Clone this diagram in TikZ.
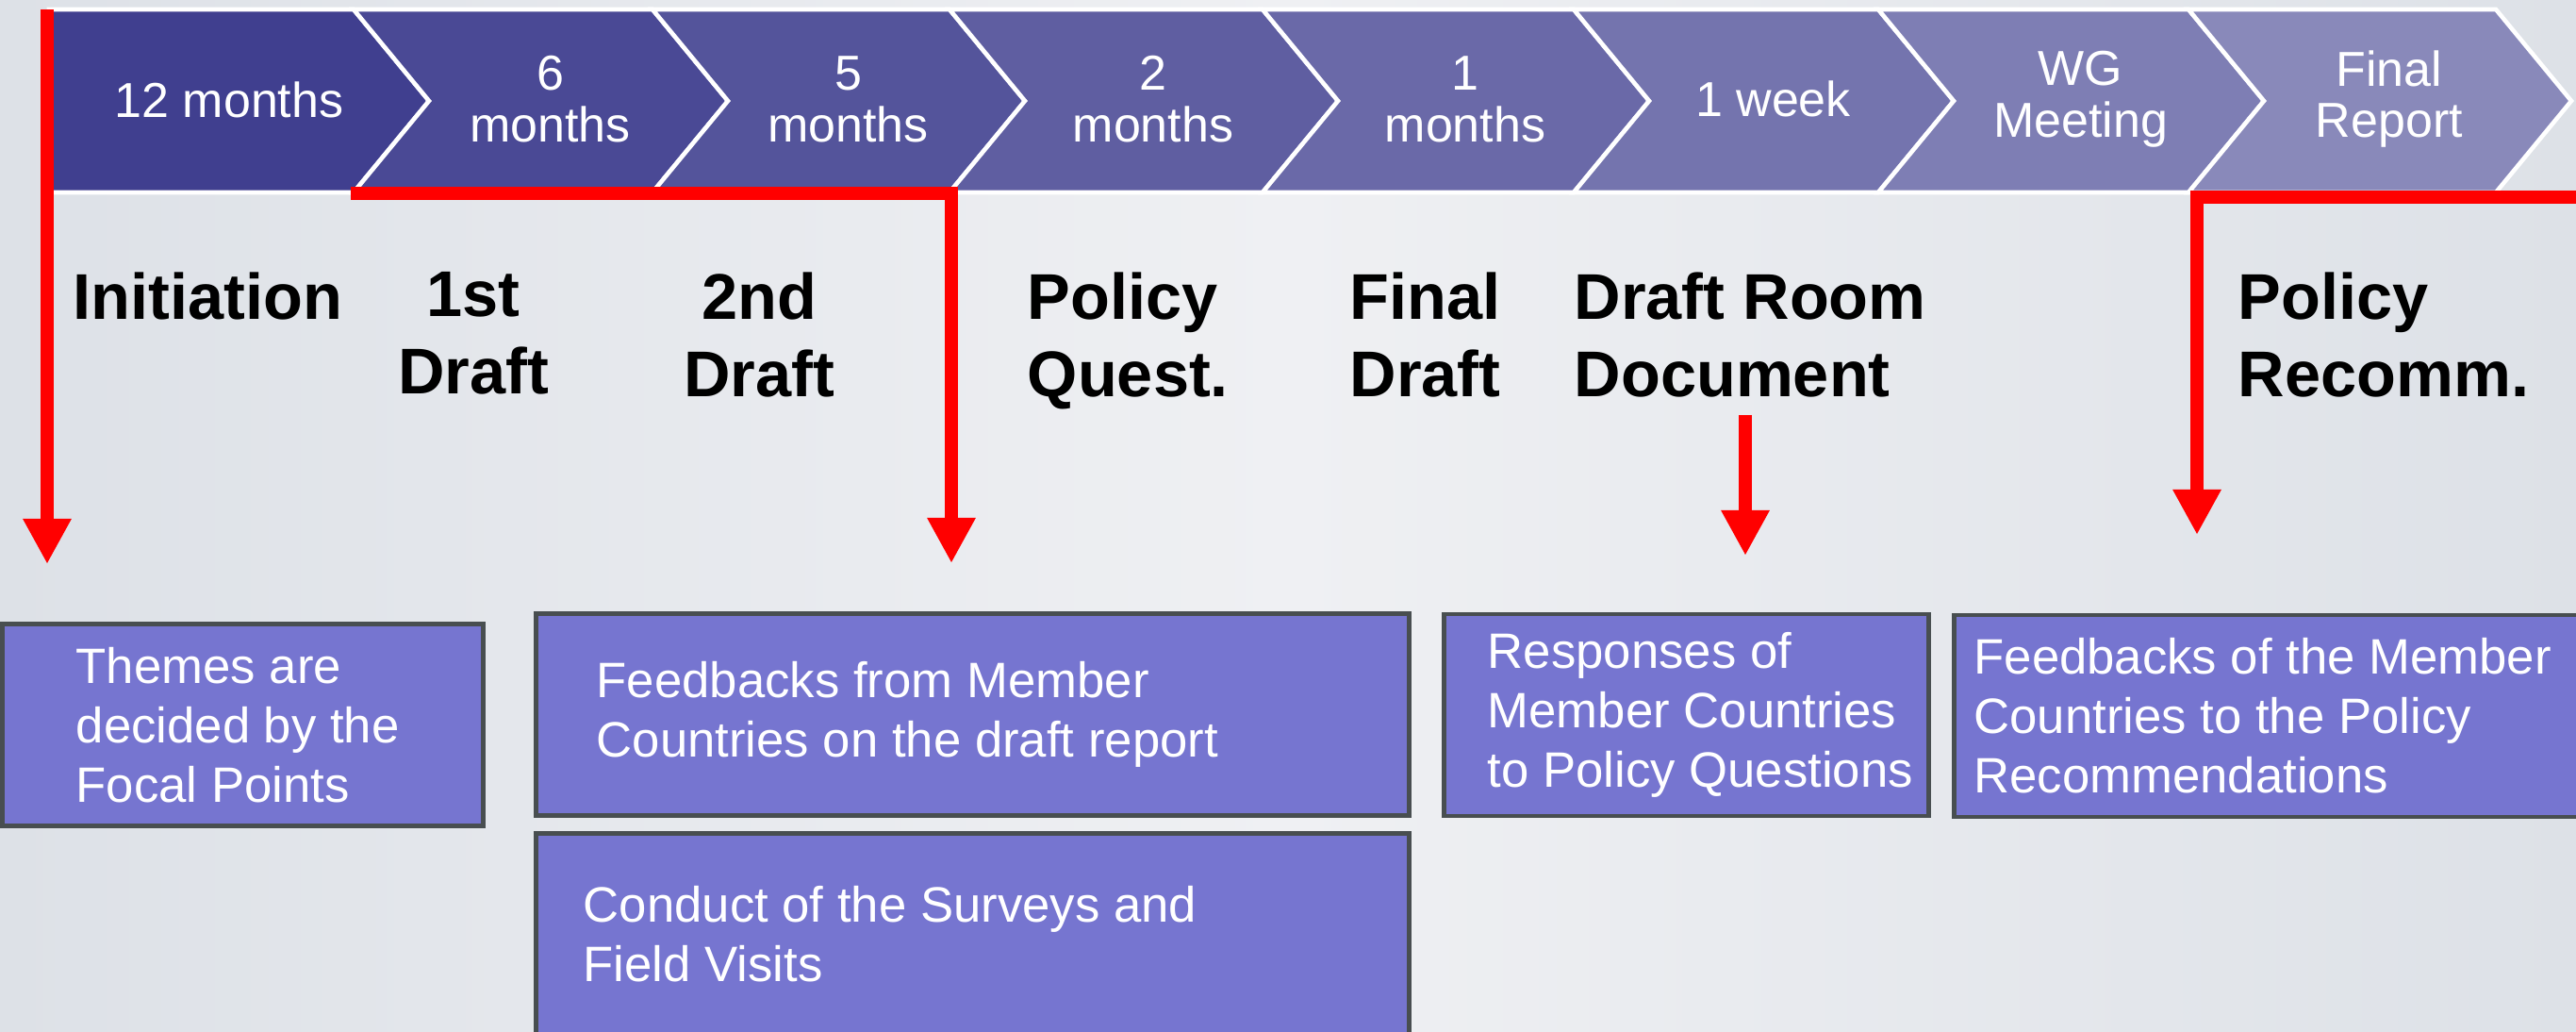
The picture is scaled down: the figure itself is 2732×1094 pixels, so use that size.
\documentclass[tikz,border=0pt]{standalone}
\usepackage{fontspec}
\setmainfont{Liberation Sans}
\usetikzlibrary{positioning, arrows.meta}

\definecolor{stepdark}{RGB}{64,63,143}
\definecolor{steplight}{RGB}{137,137,186}
\definecolor{boxfill}{RGB}{118,117,208}
\definecolor{boxline}{RGB}{72,78,80}
\definecolor{bgmid}{RGB}{239,240,243}
\definecolor{bgside}{RGB}{221,225,231}

\begin{document}
\begin{tikzpicture}[x = 0.1mm, y = -0.1mm,
    chevron/.style = { draw = white, line width = 1.3pt },
    steptext/.style = { text = white, align = center, inner sep = 0pt, font = \fontsize{14.8pt}{15.6pt}\selectfont },
    phase/.style = { inner sep = 0pt, font = \bfseries\fontsize{19.5pt}{23.3pt}\selectfont },
    infobox/.style = { draw = boxline, fill = boxfill, line width = 1.42pt, minimum height = 21.4mm },
    infotext/.style = { text = white, align = left, inner sep = 0pt, anchor = west, font = \fontsize{15pt}{17.9pt}\selectfont },
    redarrow/.style = { draw = red, line width = 3.8pt, -{Triangle[length = 4.8mm, width = 4.8mm]} }
  ]
    \useasboundingbox (0,0) rectangle (2732,1094);
    \clip (0,0) rectangle (2732,1094);
    \shade[left color = bgside, right color = bgside, middle color = bgmid] (0,0) rectangle (2732,1094);

    \foreach \tipx/\steplabel [count = \i, remember = \tipx as \lastx (initially 52)] in
        {455/12 months, 772/6\\months, 1087/5\\months, 1419/2\\months,
         1749/1\\months, 2072/1 week, 2401/WG\\Meeting, 2727/Final\\Report} {
        \pgfmathtruncatemacro{\shadepct}{(\i - 1) * 100 / 7}
        \ifnum \i = 1
            \filldraw[chevron, fill = stepdark] (\lastx,10) -- (\tipx - 80,10) -- (\tipx,107) -- (\tipx - 80,204) -- (\lastx,204) -- cycle;
            \node[steptext] (step\i) at (243,106) {\steplabel};
        \else
            \filldraw[chevron, fill = steplight!\shadepct!stepdark] (\lastx - 80,10) -- (\tipx - 80,10) -- (\tipx,107) -- (\tipx - 80,204) -- (\lastx - 80,204) -- (\lastx,107) -- cycle;
            \node[steptext] (step\i) at ({(\lastx + \tipx) / 2 - 30},105) {\steplabel};
        \fi
    }

    \node[phase, anchor = north west] (init) at (77,288) {Initiation};
    \node[phase, anchor = north, align = center] (draft1) at (502,288) {1st\\Draft};
    \node[phase, anchor = north, align = center] (draft2) at (805,288) {2nd\\Draft};
    \node[phase, anchor = north west, align = left] (pquest) at (1089,288) {Policy\\Quest.};
    \node[phase, anchor = north west, align = left] (fdraft) at (1431,288) {Final\\Draft};
    \node[phase, anchor = north west, align = left] (roomdoc) at (1669,288) {Draft Room\\Document};
    \node[phase, anchor = north west, align = left] (precomm) at (2373,288) {Policy\\Recomm.};

    \node[infobox, minimum width = 51mm] (themes) at (257.5,768.5) {};
    \node[infobox, minimum width = 92.6mm] (fbdraft) at (1031.5,757.5) {};
    \node[infobox, minimum width = 92.6mm, below = 1.4mm of fbdraft] (survey) {};
    \node[infobox, minimum width = 51.4mm] (resp) at (1788.5,758) {};
    \node[infobox, minimum width = 67.3mm] (fbrec) at (2408.75,759) {};

    \node[infotext] (themes-text) at ([xshift = 8mm] themes.west) {Themes are\\decided by the\\Focal Points};
    \node[infotext] (fbdraft-text) at ([xshift = 6.6mm] fbdraft.west) {Feedbacks from Member\\Countries on the draft report};
    \node[infotext] (survey-text) at ([xshift = 5.2mm] survey.west) {Conduct of the Surveys and\\Field Visits};
    \node[infotext] (resp-text) at ([xshift = 4.8mm] resp.west) {Responses of\\Member Countries\\to Policy Questions};
    \node[infotext] (fbrec-text) at ([xshift = 2.3mm] fbrec.west) {Feedbacks of the Member\\Countries to the Policy\\Recommendations};

    \coordinate (initTop) at (50,10);
    \coordinate (initTip) at (50,598);
    \coordinate (draftStart) at (372,205);
    \coordinate (draftTip) at (1009,597);
    \coordinate (roomStart) at (1851,440);
    \coordinate (roomTip) at (1851,589);
    \coordinate (recommStart) at (2740,209);
    \coordinate (recommTip) at (2330,567);

    \draw[redarrow] (initTop) -- (initTip);
    \draw[redarrow] (draftStart) -| (draftTip);
    \draw[redarrow] (roomStart) -- (roomTip);
    \draw[redarrow] (recommStart) -| (recommTip);
\end{tikzpicture}
\end{document}
